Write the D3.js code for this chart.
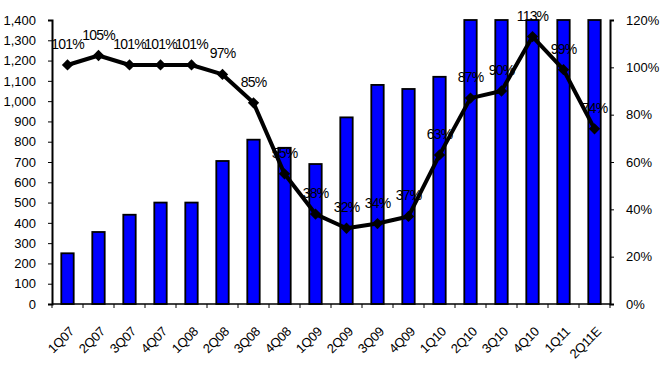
<!DOCTYPE html>
<html><head><meta charset="utf-8">
<script src="https://cdn.jsdelivr.net/npm/d3@7"></script>
<style>
body{margin:0;background:#fff;}
text{font-family:"Liberation Sans",Arial,sans-serif;fill:#000;}
</style></head>
<body><svg id="c" width="663" height="369"></svg>
<script>
const categories = ["1Q07","2Q07","3Q07","4Q07","1Q08","2Q08","3Q08","4Q08","1Q09","2Q09","3Q09","4Q09","1Q10","2Q10","3Q10","4Q10","1Q11","2Q11E"];
const barValues = [250,355,440,500,500,705,810,770,690,920,1080,1060,1120,1500,1560,1650,1700,1600];
const lineValues = [1.01,1.05,1.01,1.01,1.01,0.97,0.85,0.55,0.38,0.32,0.34,0.37,0.63,0.87,0.90,1.13,0.99,0.74];
const lineLabels = ["101%","105%","101%","101%","101%","97%","85%","55%","38%","32%","34%","37%","63%","87%","90%","113%","99%","74%"];
const leftTicks = [0,100,200,300,400,500,600,700,800,900,1000,1100,1200,1300,1400];
const rightTicks = [0,0.2,0.4,0.6,0.8,1.0,1.2];

const svg = d3.select("#c");
const L = 52, R = 610, T = 20, B = 304;

const x = d3.scaleBand().domain(categories).range([L, R]).paddingInner(0.6).paddingOuter(0.3);
const yL = d3.scaleLinear().domain([0, 1400]).range([B, T]).clamp(true);
const yR = d3.scaleLinear().domain([0, 1.2]).range([B, T]);
const cx = c => x(c) + x.bandwidth() / 2;

// bars
svg.append("g").selectAll("rect").data(categories).join("rect")
  .attr("x", d => x(d)).attr("width", x.bandwidth())
  .attr("y", (d, i) => yL(barValues[i]))
  .attr("height", (d, i) => B - yL(barValues[i]))
  .attr("fill", "#0000ff").attr("stroke", "#000").attr("stroke-width", 1.8);

// left axis
const gl = svg.append("g").attr("transform", `translate(${L},0)`)
  .call(d3.axisLeft(yL).tickValues(leftTicks).tickSize(4).tickPadding(12).tickFormat(d3.format(",")));
gl.select(".domain").attr("stroke-width", 2);
gl.selectAll("text").style("font-size", "13px");

// right axis
const gr = svg.append("g").attr("transform", `translate(${R},0)`)
  .call(d3.axisRight(yR).tickValues(rightTicks).tickSize(4).tickPadding(12).tickFormat(d3.format(".0%")));
gr.select(".domain").attr("stroke-width", 2);
gr.selectAll("text").style("font-size", "13px");

// bottom axis
const boundaries = d3.range(categories.length + 1).map(i => L + i * (R - L) / categories.length);
svg.append("line").attr("x1", L).attr("x2", R).attr("y1", B).attr("y2", B).attr("stroke", "#000").attr("stroke-width", 1.5);
svg.append("g").selectAll("line").data(boundaries).join("line")
  .attr("x1", d => d).attr("x2", d => d).attr("y1", B).attr("y2", B + 4)
  .attr("stroke", "#000").attr("stroke-width", 1);
svg.append("g").selectAll("text").data(categories).join("text")
  .attr("transform", d => `translate(${cx(d) + 1},${B + 22}) rotate(-45)`)
  .attr("text-anchor", "end").attr("dy", "0.7em")
  .style("font-size", "13px").style("letter-spacing", "-0.3px")
  .text(d => d);

// line
const line = d3.line().x((d, i) => cx(categories[i])).y(d => yR(d));
svg.append("path").datum(lineValues).attr("d", line)
  .attr("fill", "none").attr("stroke", "#000").attr("stroke-width", 4).attr("stroke-linejoin", "round");
svg.append("g").selectAll("path").data(lineValues).join("path")
  .attr("d", d3.symbol(d3.symbolSquare, 64))
  .attr("transform", (d, i) => `translate(${cx(categories[i])},${yR(d)}) rotate(45)`)
  .attr("fill", "#000");

// labels
svg.append("g").selectAll("text").data(lineValues).join("text")
  .attr("x", (d, i) => cx(categories[i]))
  .attr("y", d => yR(d) - 16)
  .attr("text-anchor", "middle")
  .style("font-size", "14px").style("letter-spacing", "-0.8px")
  .text((d, i) => lineLabels[i]);
</script></body></html>
